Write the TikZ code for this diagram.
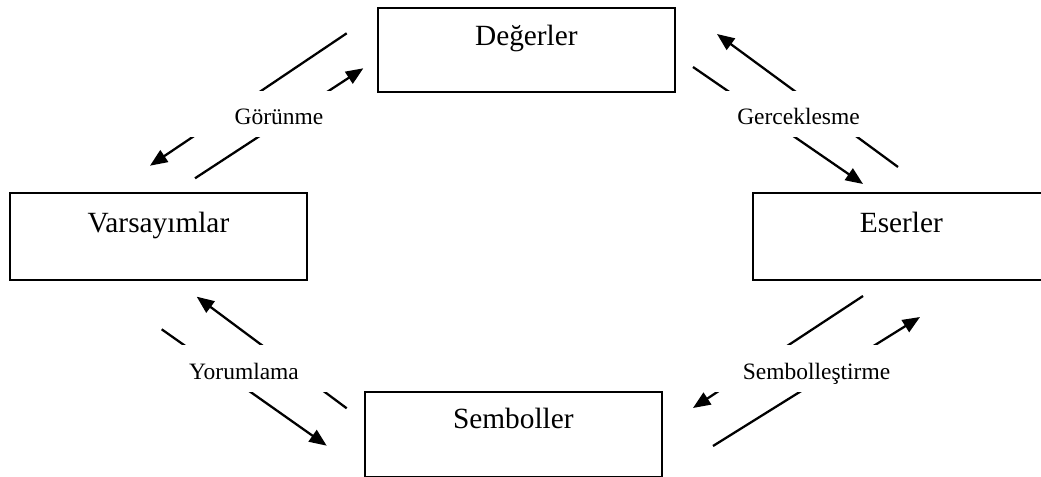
\documentclass[tikz,border=0pt]{standalone}
\usepackage{fontspec}
\setmainfont{Liberation Serif}
\usetikzlibrary{arrows.meta}
\begin{document}
\begin{tikzpicture}[x=0.75pt,y=-0.75pt,
  box/.style={draw, line width=1.3pt, rectangle, inner sep=0pt, anchor=north west,
    minimum width=222.75pt, font=\fontsize{22}{26}\selectfont},
  arr/.style={line width=1.7pt, -{Triangle[length=13pt,width=10.5pt]}},
  lab/.style={fill=white, inner sep=0pt, anchor=base, minimum width=135pt,
    text height=25.5pt, text depth=9pt, font=\fontsize{17.6}{21}\selectfont}]
\useasboundingbox (0,0) rectangle (1041,477);
\clip (0,0) rectangle (1041,477);
% boxes
\node[box, text height=28.5pt, text depth=34.5pt] (deg) at (377,7) {Değerler};
\node[box, text height=30pt, text depth=35.25pt] (var) at (9,192) {Varsayımlar};
\node[box, text height=30pt, text depth=35.25pt] (ese) at (752,192) {Eserler};
\node[box, text height=27.75pt, text depth=36pt] (sem) at (364,391) {Semboller};
% arrow end points
\coordinate (g1s) at (195,178.3);  \coordinate (g1e) at (363.3,68.3);
\coordinate (g2s) at (346.7,33.3); \coordinate (g2e) at (150,165.7);
\coordinate (k1s) at (693,67);     \coordinate (k1e) at (863,184);
\coordinate (k2s) at (898,167);    \coordinate (k2e) at (717,34);
\coordinate (y1s) at (161.7,329.3); \coordinate (y1e) at (326.7,445.7);
\coordinate (y2s) at (346.7,408.3); \coordinate (y2e) at (196.7,296.7);
\coordinate (s1s) at (863,296);    \coordinate (s1e) at (693,408);
\coordinate (s2s) at (713,446);    \coordinate (s2e) at (920,317);
% arrows
\draw[arr] (g1s) -- (g1e);
\draw[arr] (g2s) -- (g2e);
\draw[arr] (k1s) -- (k1e);
\draw[arr] (k2s) -- (k2e);
\draw[arr] (y1s) -- (y1e);
\draw[arr] (y2s) -- (y2e);
\draw[arr] (s1s) -- (s1e);
\draw[arr] (s2s) -- (s2e);
% labels
\node[lab] (lg) at (279,125) {Görünme};
\node[lab] (lk) at (798.5,125) {Gerceklesme};
\node[lab, text depth=10pt] (ly) at (244,379) {Yorumlama};
\node[lab, text depth=10pt, minimum width=165pt] (ls) at (816.5,379) {Sembolleştirme};
\end{tikzpicture}
\end{document}
